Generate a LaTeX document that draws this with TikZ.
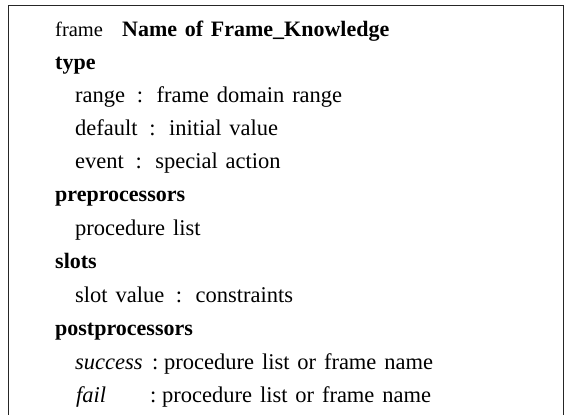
\documentclass[tikz,border=0pt]{standalone}
\usepackage{fontspec}
\setmainfont[WordSpace=1.4]{Liberation Serif}
\begin{document}
\begin{tikzpicture}[x=1pt,y=-1pt,
  txt/.style={anchor=base west,inner sep=0pt,font=\fontsize{22.5}{24}\selectfont},
  head/.style={txt,font=\fontsize{22}{24}\selectfont\bfseries},
  frameline/.style={line width=1pt,black!85}]
  \useasboundingbox (0,0) rectangle (566,415);
  % outer frame, open at the bottom
  \draw[frameline] (8.5,415) -- (8.5,5.5) -- (563,5.5) -- (563,415);
  % header
  \node[txt,font=\fontsize{20.5}{22}\selectfont] (fr) at (55,37) {frame};
  \node[head] (nm) at (122,37) {Name of Frame\_Knowledge};
  % type block
  \node[head] (ty) at (55,69) {type};
  \node[txt] (rg) at (75,102) {range \,:\, frame domain range};
  \node[txt] (df) at (75,135) {default \,:\, initial value};
  \node[txt] (ev) at (75,168) {event \,:\, special action};
  % preprocessors
  \node[head] (pre) at (55,201) {preprocessors};
  \node[txt] (pl) at (75,235) {procedure list};
  % slots
  \node[head] (sl) at (55,268) {slots};
  \node[txt] (sv) at (75,302) {slot value \,:\, constraints};
  % postprocessors
  \node[head] (post) at (55,335) {postprocessors};
  \node[txt] (su) at (75,369) {\itshape success};
  \node[txt] (suc) at (152,369) {:};
  \node[txt] (sur) at (164,369) {procedure list or frame name};
  \node[txt] (fa) at (76,402) {\itshape fail};
  \node[txt] (fac) at (150,402) {:};
  \node[txt] (far) at (162,402) {procedure list or frame name};
\end{tikzpicture}
\end{document}
